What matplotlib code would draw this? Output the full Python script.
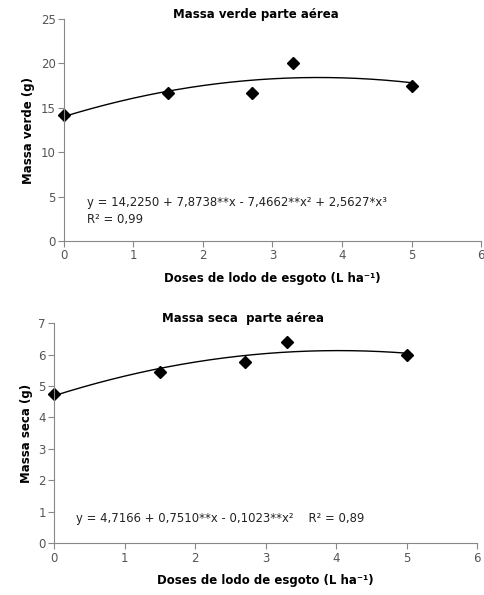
import numpy as np
import matplotlib.pyplot as plt

plt.rcParams['font.family'] = ['DejaVu Sans']

# data
doses = [0, 1.5, 2.7, 3.3, 5]
massa_verde = [14.2, 16.7, 16.7, 20.1, 17.5]
massa_seca = [4.75, 5.45, 5.77, 6.4, 5.97]

eq_verde = 'y = 14,2250 + 7,8738**x - 7,4662**x² + 2,5627*x³\nR² = 0,99'
eq_seca = 'y = 4,7166 + 0,7510**x - 0,1023**x²    R² = 0,89'

XLABEL = 'Doses de lodo de esgoto (L ha⁻¹)'

fig = plt.figure(figsize=(4.84, 5.95), dpi=100)
ax1 = fig.add_axes([0.132, 0.595, 0.862, 0.373])
ax2 = fig.add_axes([0.112, 0.087, 0.874, 0.370])


def draw_panel(ax, x, y, ymax, title, ylabel, eq, eq_pos, title_x):
    # trendline (2nd order) fitted to the points
    coef = np.polyfit(x, y, 2)
    xs = np.linspace(min(x), max(x), 200)
    ax.plot(xs, np.polyval(coef, xs), color='black', lw=1.0)
    ax.plot(x, y, 'D', color='black', ms=6.5, clip_on=False)

    ax.set_xlim(0, 6)
    ax.set_ylim(0, ymax)
    for s in ['top', 'right']:
        ax.spines[s].set_visible(False)
    for s in ['left', 'bottom']:
        ax.spines[s].set_color('#888888')
        ax.spines[s].set_linewidth(0.8)
    ax.tick_params(direction='out', length=4, color='#888888',
                   labelsize=8.5, labelcolor='#555555', pad=2)
    ax.set_xlabel(XLABEL, fontsize=8.5, fontweight='bold', labelpad=7)
    ax.set_ylabel(ylabel, fontsize=8.5, fontweight='bold', labelpad=4)
    ax.text(title_x, 1.02, title, transform=ax.transAxes, ha='center',
            va='center', fontsize=8.5, fontweight='bold')
    ax.text(eq_pos[0], eq_pos[1], eq, transform=ax.transAxes, ha='left',
            va='center', fontsize=8.4, color='#222222', linespacing=1.4)


draw_panel(ax1, doses, massa_verde, 25, 'Massa verde parte aérea',
           'Massa verde (g)', eq_verde, (0.055, 0.135), 0.46)
draw_panel(ax2, doses, massa_seca, 7, 'Massa seca  parte aérea',
           'Massa seca (g)', eq_seca, (0.052, 0.113), 0.447)

ax1.set_yticks(range(0, 26, 5))
ax2.set_yticks(range(0, 8))

fig.savefig('out.png', dpi=100)
